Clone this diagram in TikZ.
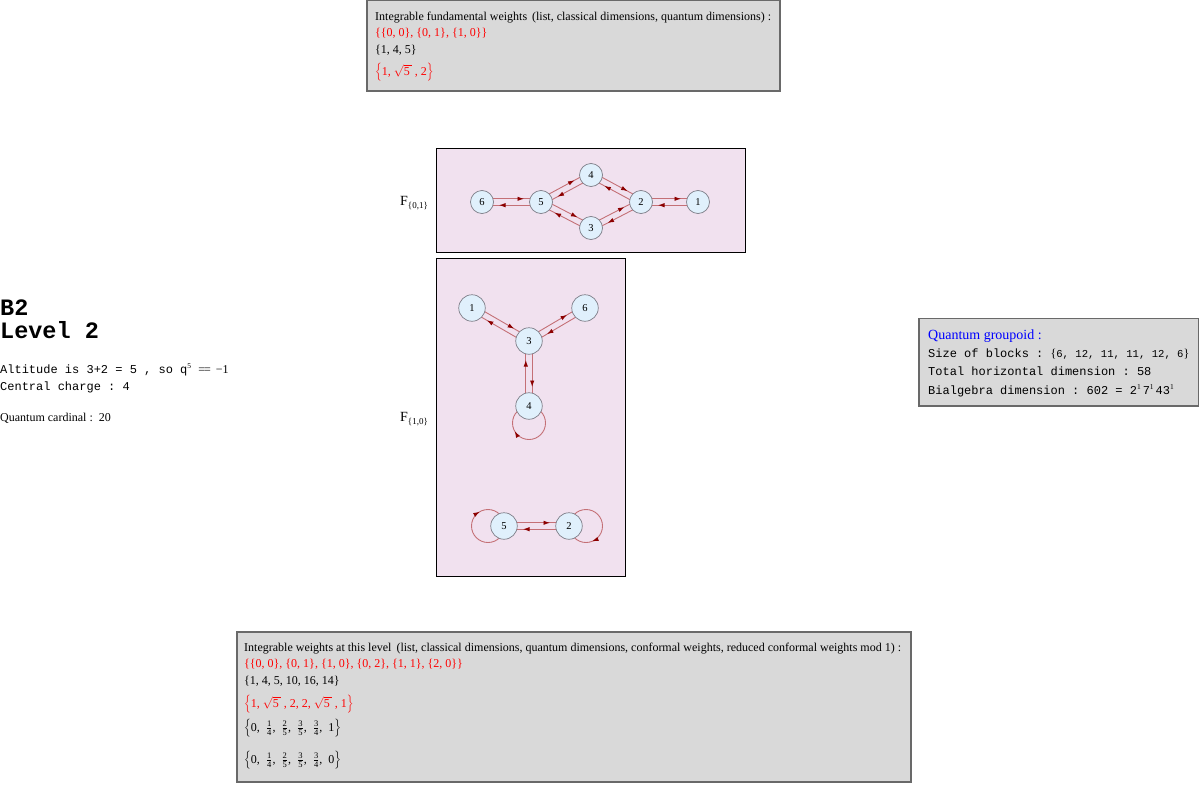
\documentclass[tikz,border=0pt]{standalone}
\usepackage{fontspec}
\setmainfont{Liberation Serif}
\setmonofont{Liberation Mono}
\usetikzlibrary{calc,decorations.markings,arrows.meta}
\definecolor{boxgray}{RGB}{217,217,217}
\definecolor{boxborder}{RGB}{105,105,105}
\definecolor{pinkfill}{RGB}{241,225,239}
\definecolor{nodefill}{RGB}{224,240,252}
\definecolor{nodedraw}{RGB}{125,125,135}
\definecolor{edgecol}{RGB}{196,112,118}
\definecolor{arrowred}{RGB}{140,0,0}
\definecolor{qblue}{RGB}{0,0,255}
\definecolor{wred}{RGB}{255,0,0}
\pgfdeclarelayer{bg}\pgfdeclarelayer{edges}\pgfsetlayers{bg,edges,main}
\tikzset{
  infobox/.style={draw=boxborder, fill=boxgray, line width=1.4pt},
  graphbox/.style={draw=black, fill=pinkfill, line width=0.8pt},
  vtx/.style={circle, draw=nodedraw, fill=nodefill, line width=0.7pt, minimum size=23pt, inner sep=0pt, font=\fontsize{10.5}{10.5}\selectfont},
  vtxb/.style={vtx, minimum size=26.5pt},
  edgeline/.style={draw=edgecol, line width=0.9pt},
  txt/.style={anchor=base west, inner sep=0pt, font=\fontsize{12}{14}\selectfont},
  mono/.style={anchor=base west, inner sep=0pt, font=\fontsize{12}{14}\ttfamily},
  bigmono/.style={anchor=base west, inner sep=0pt, font=\fontsize{23.5}{26}\ttfamily\bfseries},
  flabel/.style={anchor=base west, inner sep=0pt, font=\fontsize{14}{16}\selectfont},
}
\newcommand\arrtip{\arrow{Latex[length=6.5pt,width=4.4pt,color=arrowred]}}
\newcommand\dedge[3]{%
  \draw[edgeline, postaction={decorate}, decoration={markings, mark=at position -#3 with {\arrtip}}]
    ($(#1)!3.2pt!90:(#2)$) -- ($(#2)!3.2pt!-90:(#1)$);}
\newcommand\subsm[1]{\raisebox{-3pt}{\fontsize{9}{9}\selectfont #1}}
\newcommand\fr[2]{\frac{\mbox{\fontsize{8.5}{8.5}\selectfont #1}}{\mbox{\fontsize{8.5}{8.5}\selectfont #2}}}
\newcommand\supone[1]{\raisebox{4.5pt}{\fontsize{7.5}{7.5}\rmfamily #1}}
\newcommand\cm{\mbox{,\hspace{6pt}}}
\begin{document}
\begin{tikzpicture}[x=1pt,y=1pt]
\useasboundingbox (0,0) rectangle (1200,-787);

% ---------- boxes ----------
\begin{pgfonlayer}{bg}
  \draw[infobox] (367,-0.8) rectangle (780,-91);
  \draw[graphbox] (436.5,-148.5) rectangle (745.5,-252.5);
  \draw[graphbox] (436.5,-258.5) rectangle (625.5,-576.5);
  \draw[infobox] (919,-318.5) rectangle (1198.5,-406);
  \draw[infobox] (237,-632) rectangle (911,-782);
\end{pgfonlayer}

% ---------- top box text ----------
\node[txt] (t1) at (375,-20) {Integrable fundamental weights\, (list, classical dimensions, quantum dimensions) :};
\node[txt, text=wred] (t2) at (375,-36) {\{\{0, 0\}, \{0, 1\}, \{1, 0\}\}};
\node[txt] (t3) at (375,-53) {\{1, 4, 5\}};
\node[txt, text=wred] (t4) at (375,-75) {$\left\{\mbox{1, }\sqrt{\mbox{5}\,}\mbox{ , 2}\right\}$};

% ---------- left text ----------
\node[bigmono] (l1) at (0,-315) {B2};
\node[bigmono] (l2) at (0,-338) {Level 2};
\node[mono] (l3) at (0,-373) {Altitude is 3+2 = 5 , so q\supone{5}\ {\rmfamily =\kern-1pt= \,−1}};
\node[mono] (l4) at (0,-390) {Central charge : 4};
\node[txt] (l5) at (0,-421) {Quantum cardinal :\, 20};

% ---------- F labels ----------
\node[flabel] (f1) at (400,-205) {F\subsm{\{0,1\}}};
\node[flabel] (f2) at (400,-421) {F\subsm{\{1,0\}}};

% ---------- graph 1 ----------
\node[vtx] (a6) at (482,-202) {6};
\node[vtx] (a5) at (541,-202) {5};
\node[vtx] (a4) at (591,-175) {4};
\node[vtx] (a2) at (641,-202) {2};
\node[vtx] (a1) at (698,-202) {1};
\node[vtx] (a3) at (591,-228) {3};
\begin{pgfonlayer}{edges}
  \dedge{a6}{a5}{17pt}\dedge{a5}{a6}{17pt}
  \dedge{a5}{a4}{17pt}\dedge{a4}{a5}{17pt}
  \dedge{a4}{a2}{17pt}\dedge{a2}{a4}{17pt}
  \dedge{a5}{a3}{17pt}\dedge{a3}{a5}{17pt}
  \dedge{a3}{a2}{17pt}\dedge{a2}{a3}{17pt}
  \dedge{a2}{a1}{17pt}\dedge{a1}{a2}{17pt}
\end{pgfonlayer}

% ---------- graph 2 ----------
\node[vtxb] (b1) at (472,-308) {1};
\node[vtxb] (b6) at (585,-308) {6};
\node[vtxb] (b3) at (529,-341) {3};
\node[vtxb] (b4) at (529,-406) {4};
\node[vtxb] (b5) at (504,-526) {5};
\node[vtxb] (b2) at (569,-526) {2};
\coordinate (c4) at (529,-423);
\coordinate (c5) at (488,-526);
\coordinate (c2) at (586,-526);
\begin{pgfonlayer}{edges}
  \dedge{b1}{b3}{19pt}\dedge{b3}{b1}{19pt}
  \dedge{b3}{b6}{19pt}\dedge{b6}{b3}{19pt}
  \dedge{b3}{b4}{19pt}\dedge{b4}{b3}{19pt}
  \dedge{b5}{b2}{19pt}\dedge{b2}{b5}{19pt}
  \draw[edgeline, postaction={decorate}, decoration={markings, mark=at position 0.667 with {\arrtip}}]
    (c4) ++(90:16.5) arc[start angle=90, end angle=-270, radius=16.5];
  \draw[edgeline, postaction={decorate}, decoration={markings, mark=at position 0.667 with {\arrtip}}]
    (c5) ++(0:16.5) arc[start angle=0, end angle=-360, radius=16.5];
  \draw[edgeline, postaction={decorate}, decoration={markings, mark=at position 0.69 with {\arrtip}}]
    (c2) ++(180:16.5) arc[start angle=180, end angle=-180, radius=16.5];
\end{pgfonlayer}

% ---------- right box ----------
\node[txt, text=qblue, font=\fontsize{14}{16}\selectfont] (r1) at (928,-339) {Quantum groupoid :};
\node[mono] (r2) at (928,-357) {Size of blocks : {\rmfamily\{}{\fontsize{10.6}{12}\selectfont 6, 12, 11, 11, 12, 6}{\rmfamily\}}};
\node[mono] (r3) at (928,-375) {Total horizontal dimension : 58};
\node[mono] (r4) at (928,-394) {Bialgebra dimension : 602 = 2\supone{1}\,7\supone{1}\,43\supone{1}};

% ---------- bottom box ----------
\node[txt] (w1) at (244,-651) {Integrable weights at this level\, (list, classical dimensions, quantum dimensions, conformal weights, reduced conformal weights mod 1) :};
\node[txt, text=wred] (w2) at (244,-667) {\{\{0, 0\}, \{0, 1\}, \{1, 0\}, \{0, 2\}, \{1, 1\}, \{2, 0\}\}};
\node[txt] (w3) at (244,-684) {\{1, 4, 5, 10, 16, 14\}};
\node[txt, text=wred] (w4) at (244,-707) {$\left\{\mbox{1, }\sqrt{\mbox{5}\,}\mbox{ , 2, 2, }\sqrt{\mbox{5}\,}\mbox{ , 1}\right\}$};
\node[txt] (w5) at (244,-731) {$\left\{\mbox{0}\cm\fr{1}{4}\cm\fr{2}{5}\cm\fr{3}{5}\cm\fr{3}{4}\cm\mbox{1}\right\}$};
\node[txt] (w6) at (244,-763) {$\left\{\mbox{0}\cm\fr{1}{4}\cm\fr{2}{5}\cm\fr{3}{5}\cm\fr{3}{4}\cm\mbox{0}\right\}$};
\end{tikzpicture}
\end{document}
